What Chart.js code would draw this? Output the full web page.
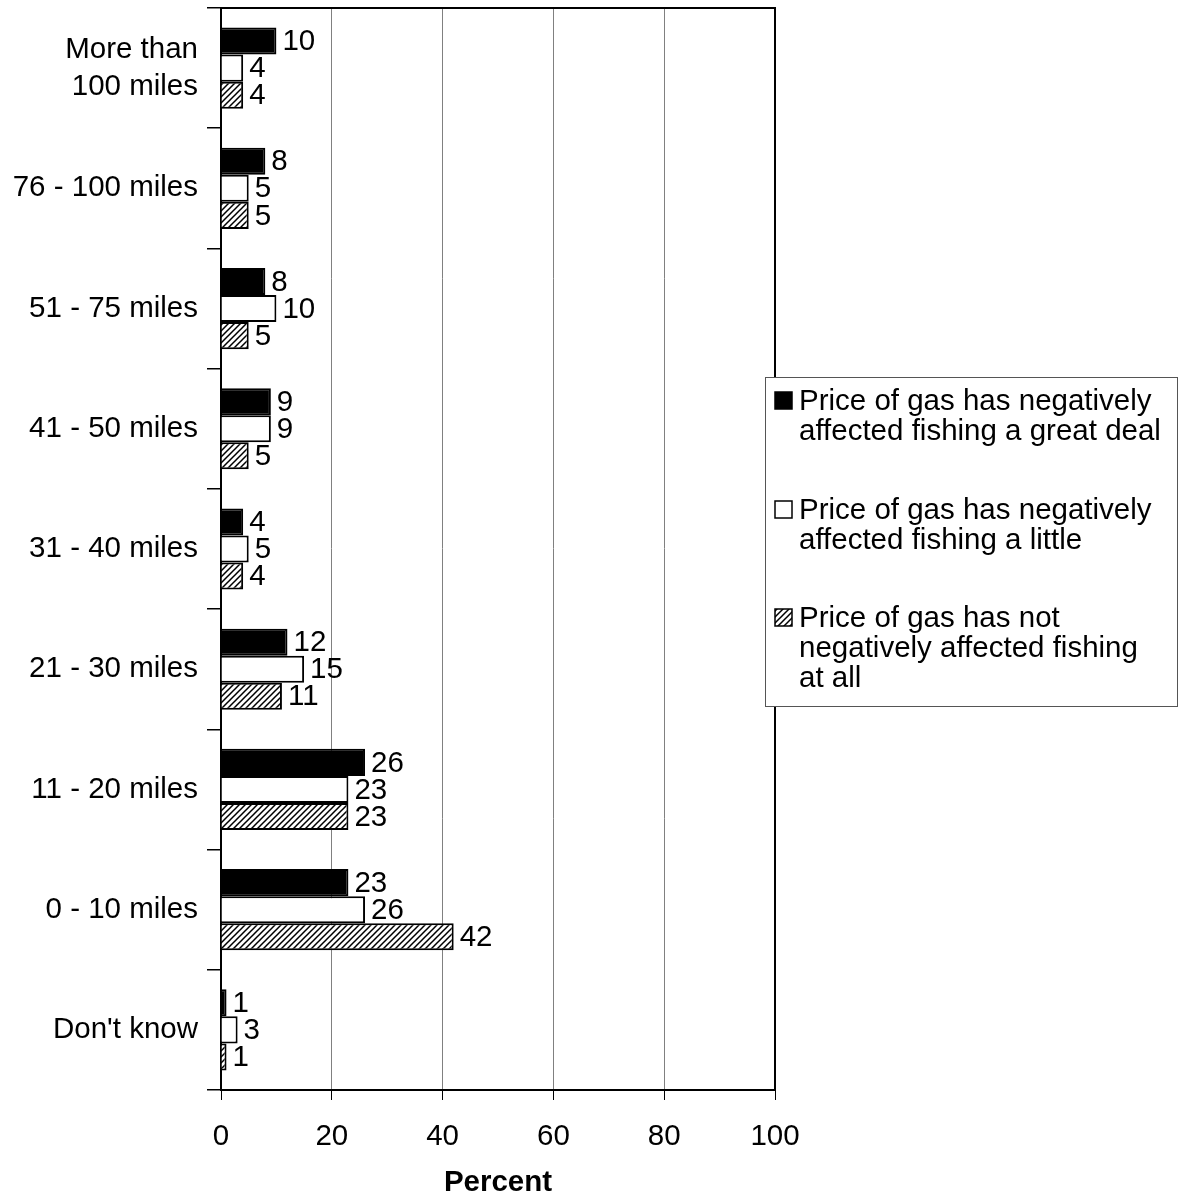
<!DOCTYPE html>
<html>
<head>
<meta charset="utf-8">
<script src="https://cdn.jsdelivr.net/npm/chart.js@4/dist/chart.umd.min.js"></script>
<style>
  body { margin: 0; background: #fff; }
  canvas { display: block; }
</style>
</head>
<body>
<canvas id="chart" width="1182" height="1198"></canvas>
<script>
// categories (top to bottom)
const categories = [
  ['More than', '100 miles'],
  '76 - 100 miles',
  '51 - 75 miles',
  '41 - 50 miles',
  '31 - 40 miles',
  '21 - 30 miles',
  '11 - 20 miles',
  '0 - 10 miles',
  "Don't know"
];

// series values (percent)
const greatDeal = [10, 8, 8, 9, 4, 12, 26, 23, 1];
const aLittle   = [4, 5, 10, 9, 5, 15, 23, 26, 3];
const notAtAll  = [4, 5, 5, 5, 4, 11, 23, 42, 1];

// legend text, already wrapped as in the picture
const seriesNames = [
  ['Price of gas has negatively', 'affected fishing a great deal'],
  ['Price of gas has negatively', 'affected fishing a little'],
  ['Price of gas has not', 'negatively affected fishing', 'at all']
];

const xTicks = [0, 20, 40, 60, 80, 100];

const FONT = 'Liberation Sans, Arial, sans-serif';
const FS = 29.5;
const canvas = document.getElementById('chart');
const ctx = canvas.getContext('2d');

// diagonal hatch for the third series
function makeHatch() {
  const s = 6;
  const c = document.createElement('canvas');
  c.width = s; c.height = s;
  const g = c.getContext('2d');
  g.fillStyle = '#fff';
  g.fillRect(0, 0, s, s);
  g.strokeStyle = '#000';
  g.lineWidth = 1.5;
  g.beginPath();
  g.moveTo(-1, s + 1); g.lineTo(s + 1, -1);
  g.moveTo(-s / 2 - 1, s / 2 + 1); g.lineTo(s / 2 + 1, -s / 2 - 1);
  g.moveTo(s / 2 - 1, s * 1.5 + 1); g.lineTo(s * 1.5 + 1, s / 2 - 1);
  g.stroke();
  return ctx.createPattern(c, 'repeat');
}
const hatch = makeHatch();
const fills = ['#000', '#fff', hatch];

// value labels at bar ends
const valueLabels = {
  id: 'valueLabels',
  afterDatasetsDraw(chart) {
    const c = chart.ctx;
    c.save();
    c.font = FS + 'px ' + FONT;
    c.fillStyle = '#000';
    c.textAlign = 'left';
    c.textBaseline = 'middle';
    chart.data.datasets.forEach((ds, i) => {
      chart.getDatasetMeta(i).data.forEach((bar, j) => {
        c.fillText(String(ds.data[j]), bar.x + 6, bar.y + 1);
      });
    });
    c.restore();
  }
};

// top/right frame + boxed legend on the right
const frameAndLegend = {
  id: 'frameAndLegend',
  afterDraw(chart) {
    const c = chart.ctx;
    const a = chart.chartArea;
    c.save();
    c.strokeStyle = '#000';
    c.lineWidth = 2;
    c.beginPath();
    c.moveTo(a.left, a.top);
    c.lineTo(a.right, a.top);
    c.lineTo(a.right, a.bottom);
    c.stroke();

    // legend box
    const bx = 765, by = 377, bw = 413, bh = 330;
    c.fillStyle = '#fff';
    c.fillRect(bx, by, bw, bh);
    c.strokeStyle = '#555';
    c.lineWidth = 1;
    c.strokeRect(bx + 0.5, by + 0.5, bw - 1, bh - 1);

    const itemTops = [401, 510, 618];
    c.font = FS + 'px ' + FONT;
    c.textAlign = 'left';
    c.textBaseline = 'middle';
    seriesNames.forEach((lines, i) => {
      const y0 = itemTops[i];
      c.fillStyle = fills[i];
      c.fillRect(775, y0 - 9, 17, 17);
      c.strokeStyle = '#000';
      c.lineWidth = 1.5;
      c.strokeRect(775, y0 - 9, 17, 17);
      c.fillStyle = '#000';
      lines.forEach((t, k) => c.fillText(t, 799, y0 + 1 + k * 30));
    });
    c.restore();
  }
};

new Chart(ctx, {
  type: 'bar',
  data: {
    labels: categories,
    datasets: [
      { label: seriesNames[0].join(' '), data: greatDeal, backgroundColor: fills[0], borderColor: '#000', borderWidth: 2 },
      { label: seriesNames[1].join(' '), data: aLittle, backgroundColor: fills[1], borderColor: '#000', borderWidth: 2 },
      { label: seriesNames[2].join(' '), data: notAtAll, backgroundColor: fills[2], borderColor: '#000', borderWidth: 2 }
    ]
  },
  options: {
    indexAxis: 'y',
    responsive: false,
    animation: false,
    datasets: { bar: { categoryPercentage: 0.675, barPercentage: 1 } },
    layout: { padding: { left: 0, right: 407, top: 8, bottom: 0 } },
    plugins: {
      legend: { display: false },
      tooltip: { enabled: false }
    },
    scales: {
      x: {
        min: 0,
        max: 100,
        afterBuildTicks(scale) { scale.ticks = xTicks.map(v => ({ value: v })); },
        afterFit(scale) {
          scale.height = 108;
          scale.paddingLeft = 0;
          scale.paddingRight = 0;
        },
        ticks: { font: { family: FONT, size: FS }, color: '#000', padding: 19, maxRotation: 0 },
        grid: {
          color: '#808080',
          lineWidth: 1,
          tickLength: 10,
          tickColor: '#000'
        },
        border: { color: '#000', width: 2 },
        title: {
          display: true,
          text: 'Percent',
          color: '#000',
          font: { family: FONT, size: FS, weight: 'bold', lineHeight: 1 },
          padding: { top: 0, bottom: 0 }
        }
      },
      y: {
        afterFit(scale) {
          scale.width = 221;
          scale.paddingTop = 0;
          scale.paddingBottom = 0;
        },
        ticks: { font: { family: FONT, size: FS, lineHeight: 1.25 }, color: '#000', padding: 9 },
        grid: {
          offset: true,
          drawOnChartArea: false,
          tickLength: 14,
          tickColor: '#000',
          lineWidth: 1.5
        },
        border: { color: '#000', width: 2 }
      }
    }
  },
  plugins: [valueLabels, frameAndLegend]
});
</script>
</body>
</html>
